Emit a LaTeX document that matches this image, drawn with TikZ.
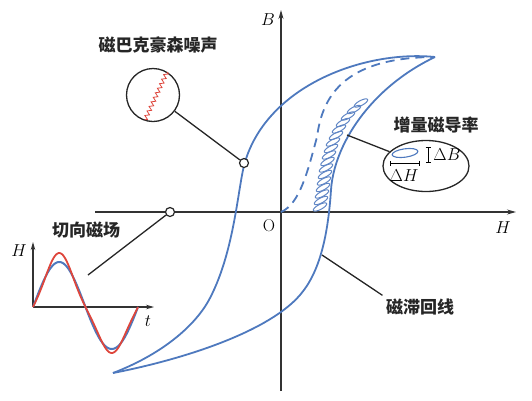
\documentclass[tikz,border=0pt]{standalone}
\usepackage{fontspec}
\newfontfamily\cjk{Noto Sans CJK SC}
\usetikzlibrary{arrows.meta,decorations.pathmorphing,shapes.geometric}
\definecolor{loopblue}{RGB}{78,121,190}
\definecolor{wavered}{RGB}{222,70,60}
\begin{document}
\begin{tikzpicture}[x=1pt,y=-1pt,
  axis/.style={line width=1.1pt, black!80, -{Stealth[length=9pt,width=5pt]}},
  smallaxis/.style={line width=1.1pt, black!80, -{Stealth[length=8pt,width=4.5pt]}},
  hyst/.style={loopblue, line width=1.8pt},
  lead/.style={black!85, line width=1.3pt},
  cjklabel/.style={font=\cjk\bfseries\fontsize{17}{17}\selectfont, text=black!85},
  mathlabel/.style={font=\fontsize{19}{19}\selectfont},
  dot/.style={circle, draw=black!85, line width=1.2pt, fill=white, inner sep=0pt, minimum size=9pt},
  minor/.style={loopblue!90, line width=1pt}]
\useasboundingbox (0,0) rectangle (532,400);

% main axes
\coordinate (hs) at (95,212);
\coordinate (he) at (516,212);
\coordinate (vs) at (281,391);
\coordinate (ve) at (281,10);
\draw[axis] (hs) -- (he);
\draw[axis] (vs) -- (ve);
\node[mathlabel] (Hl) at (503,228) {$H$};
\node[mathlabel] (Bl) at (268,20) {$B$};
\node[font=\fontsize{17}{17}\selectfont] (O) at (269,226) {O};

% minor loops
\foreach \x/\y in {320/207, 321/200.5, 322/194, 323/187.5, 324/181, 325/174.5, 326/168, 327.5/161.5, 329/155, 331/148.5, 333/142, 336/135.5, 339/129, 343/122.5, 348/116, 354/109.5, 361/103}
  \draw[minor, rotate around={28:(\x,\y)}] (\x,\y) ellipse [x radius=7.5pt, y radius=2.5pt];

% hysteresis loop
\coordinate (tipT) at (435,57);
\coordinate (tipL) at (113,373);
\draw[hyst] (tipT) .. controls (365,50) and (268,85) .. (245,162)
  .. controls (238,185) and (235,250) .. (210,298)
  .. controls (195,327) and (160,355) .. (tipL);
\draw[hyst] (tipL) .. controls (190,358) and (270,330) .. (300,295)
  .. controls (320,272) and (328,235) .. (331,190)
  .. controls (334,145) and (370,88) .. (tipT);
\draw[hyst, dash pattern=on 9pt off 6pt] (281,212) .. controls (300,204) and (308,170) .. (317,137)
  .. controls (322,100) and (340,58) .. (433,57);

% Barkhausen noise
\node[cjklabel] (noiselab) at (158,45) {磁巴克豪森噪声};
\node[circle, draw=black!85, line width=1.3pt, minimum size=53pt, inner sep=0pt] (mag) at (153,95) {};
\coordinate (z1) at (167,72);
\coordinate (z2) at (145,120);
\draw[wavered, line width=0.8pt, decorate, decoration={zigzag, amplitude=2pt, segment length=5pt}] (z1) -- (z2);
\node[dot] (ndot) at (244,163) {};
\draw[lead] (mag) -- (ndot);

% incremental permeability
\node[cjklabel] (incrlab) at (436,125) {增量磁导率};
\node[ellipse, draw=black!85, line width=1.3pt, minimum width=86pt, minimum height=51pt, inner sep=0pt] (callout) at (426,166) {};
\coordinate (mlp) at (347,135);
\draw[lead] (mlp) -- (callout);
\draw[loopblue, line width=1.1pt, rotate around={8:(405,153)}] (405,153) ellipse [x radius=13pt, y radius=4.2pt];
\coordinate (ib1) at (428,147);
\coordinate (ib2) at (428,163);
\draw[line width=1pt, {Bar[width=5pt]}-{Bar[width=5pt]}] (ib1) -- (ib2);
\node[font=\fontsize{18}{18}\selectfont] (dB) at (447,155) {$\Delta B$};
\coordinate (hb1) at (390,163);
\coordinate (hb2) at (420,163);
\draw[line width=1pt, {Bar[width=5pt]}-{Bar[width=5pt]}] (hb1) -- (hb2);
\node[font=\fontsize{18}{18}\selectfont] (dH) at (404,176) {$\Delta H$};

% tangential field
\node[dot] (tdot) at (170,212) {};
\coordinate (tend) at (88,275);
\draw[lead] (tdot) -- (tend);
\node[cjklabel] (tanlab) at (86,230) {切向磁场};
\coordinate (io) at (33,307);
\coordinate (iv) at (33,242);
\coordinate (ih) at (154,307);
\draw[smallaxis] (io) -- (iv);
\draw[smallaxis] (io) -- (ih);
\node[mathlabel] (iH) at (19,251) {$H$};
\node[mathlabel] (it) at (148,321) {$t$};
\draw[loopblue, line width=2pt] plot[domain=0:360, samples=120, variable=\t] ({33+\t/360*105}, {307-(43.5*sin(\t)+1.5*sin(\t)*sin(\t))});
\draw[wavered, line width=1.8pt] plot[domain=0:360, samples=120, variable=\t] ({33+\t/360*105}, {307-(46*sin(\t)-4*sin(3*\t)+4*sin(\t)*sin(\t))});

% hysteresis label
\node[cjklabel] (hystlab) at (420,307) {磁滞回线};
\coordinate (hl) at (322,255);
\draw[lead] (hl) -- (hystlab.north west);
\end{tikzpicture}
\end{document}
